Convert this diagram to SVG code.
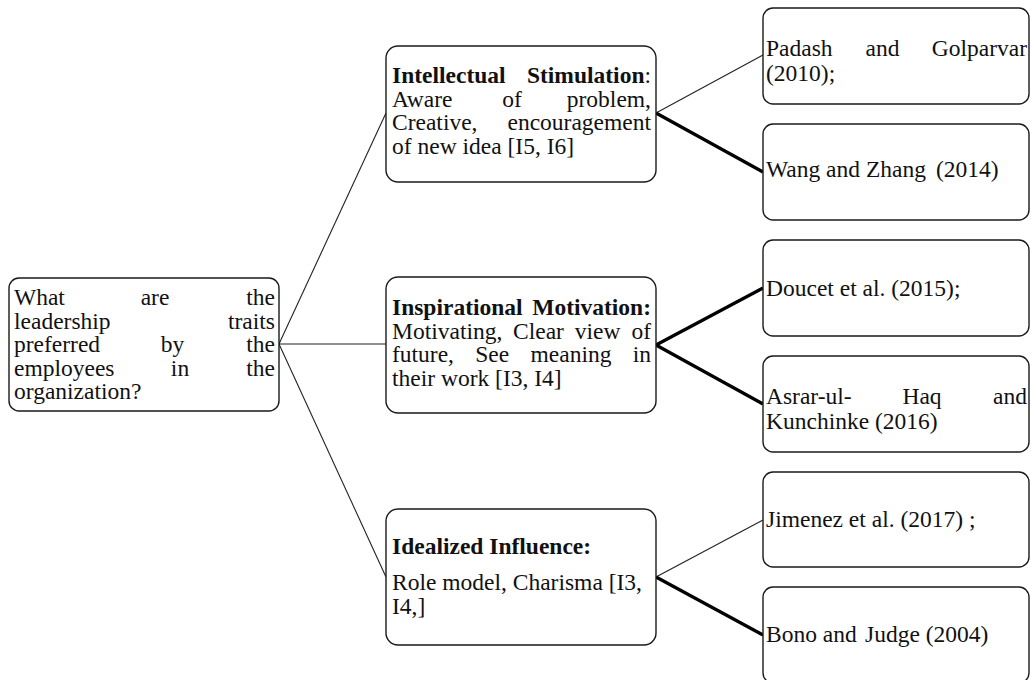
<svg xmlns="http://www.w3.org/2000/svg" width="1030" height="680" viewBox="0 0 1030 680">
<style>
  .box { fill: #ffffff; stroke: #1a1a1a; stroke-width: 1.4; }
  .t { font-family: "Liberation Serif", "Times New Roman", serif; font-size: 23.5px; fill: #111111; }
  .b { font-weight: bold; }
  .e { text-anchor: end; }
  .m { text-anchor: middle; }
  .thin { stroke: #222222; stroke-width: 1.1; fill: none; }
  .thick { stroke: #000000; stroke-width: 3.2; fill: none; }
</style>
<rect width="1030" height="680" fill="#ffffff"/>

<g id="connectors">
  <line class="thin" x1="279" y1="344" x2="386" y2="113"/>
  <line class="thin" x1="279" y1="344" x2="386" y2="344"/>
  <line class="thin" x1="279" y1="344" x2="386" y2="577"/>
  <line class="thin" x1="656" y1="113" x2="763" y2="55"/>
  <line class="thick" x1="656" y1="113" x2="763" y2="172"/>
  <line class="thick" x1="656" y1="345" x2="763" y2="288"/>
  <line class="thick" x1="656" y1="345" x2="763" y2="404"/>
  <line class="thin" x1="656" y1="577" x2="763" y2="520"/>
  <line class="thick" x1="656" y1="577" x2="763" y2="635"/>
</g>

<g id="root">
  <rect class="box" x="9" y="278" width="270" height="133" rx="10"/>
  <text class="t" x="14" y="305">What</text>
  <text class="t m" x="155" y="305">are</text>
  <text class="t e" x="275" y="305">the</text>
  <text class="t" x="14" y="328.5">leadership</text>
  <text class="t e" x="275" y="328.5">traits</text>
  <text class="t" x="14" y="352">preferred</text>
  <text class="t m" x="172.5" y="352">by</text>
  <text class="t e" x="275" y="352">the</text>
  <text class="t" x="14" y="375.5">employees</text>
  <text class="t m" x="180" y="375.5">in</text>
  <text class="t e" x="275" y="375.5">the</text>
  <text class="t" x="14" y="399">organization?</text>
</g>

<g id="intellectual">
  <rect class="box" x="386" y="46" width="270" height="136" rx="12"/>
  <text class="t b" x="392" y="83">Intellectual</text>
  <text class="t e" x="651" y="83"><tspan class="b">Stimulation</tspan>:</text>
  <text class="t" x="392" y="106.5">Aware</text>
  <text class="t m" x="512" y="106.5">of</text>
  <text class="t e" x="651" y="106.5">problem,</text>
  <text class="t" x="392" y="130">Creative,</text>
  <text class="t e" x="651" y="130">encouragement</text>
  <text class="t" x="392" y="153.5">of new idea [I5, I6]</text>
</g>

<g id="inspirational">
  <rect class="box" x="386" y="277" width="270" height="136" rx="12"/>
  <text class="t b" x="392" y="315">Inspirational</text>
  <text class="t b e" x="651" y="315">Motivation:</text>
  <text class="t" x="392" y="338.5">Motivating,</text>
  <text class="t" x="513" y="338.5">Clear</text>
  <text class="t" x="574.8" y="338.5">view</text>
  <text class="t e" x="651" y="338.5">of</text>
  <text class="t" x="392" y="362">future,</text>
  <text class="t" x="475.3" y="362">See</text>
  <text class="t" x="530.5" y="362">meaning</text>
  <text class="t e" x="651" y="362">in</text>
  <text class="t" x="392" y="385.5">their work [I3, I4]</text>
</g>

<g id="idealized">
  <rect class="box" x="386" y="509" width="270" height="136" rx="12"/>
  <text class="t b" x="392" y="554">Idealized Influence:</text>
  <text class="t" x="392" y="589.5">Role model, Charisma [I3,</text>
  <text class="t" x="392" y="613.5">I4,]</text>
</g>

<g id="padash">
  <rect class="box" x="763" y="8" width="266" height="96" rx="10"/>
  <text class="t" x="766" y="56">Padash</text>
  <text class="t m" x="882.5" y="56">and</text>
  <text class="t e" x="1027" y="56">Golparvar</text>
  <text class="t" x="766" y="81">(2010);</text>
</g>

<g id="wang">
  <rect class="box" x="763" y="124" width="266" height="96" rx="10"/>
  <text class="t" x="766" y="177">Wang and Zhang</text>
  <text class="t" x="936" y="177">(2014)</text>
</g>

<g id="doucet">
  <rect class="box" x="763" y="240" width="266" height="96" rx="10"/>
  <text class="t" x="766" y="296">Doucet et al. (2015);</text>
</g>

<g id="asrar">
  <rect class="box" x="763" y="356" width="266" height="96" rx="10"/>
  <text class="t" x="766" y="404">Asrar-ul-</text>
  <text class="t m" x="922" y="404">Haq</text>
  <text class="t e" x="1027" y="404">and</text>
  <text class="t" x="766" y="429">Kunchinke (2016)</text>
</g>

<g id="jimenez">
  <rect class="box" x="763" y="472" width="266" height="95" rx="10"/>
  <text class="t" x="766" y="527">Jimenez et al. (2017) ;</text>
</g>

<g id="bono">
  <rect class="box" x="763" y="587" width="266" height="96" rx="10"/>
  <text class="t" x="766" y="642">Bono and</text>
  <text class="t" x="865" y="642">Judge (2004)</text>
</g>
</svg>
